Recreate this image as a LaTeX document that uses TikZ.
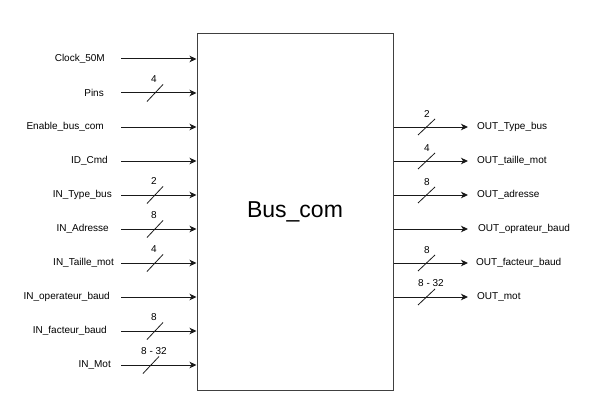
\documentclass[tikz,border=0pt]{standalone}
\usepackage{fontspec}
\setmainfont{Liberation Sans}
\usepackage{tikz}
\usetikzlibrary{positioning, arrows.meta}
\definecolor{lineclr}{rgb}{0.1, 0.1, 0.1}
\definecolor{boxclr}{rgb}{0.25, 0.25, 0.25}
\tikzset{ %
  ,>={Stealth[length=7pt, width=6.5pt, inset=2pt]}
  ,every node/.style={font=\fontsize{10}{12}\selectfont}
  ,block/.style={draw=boxclr, line width=1pt, minimum width=196pt, minimum height=356pt, inner sep=0, font=\fontsize{23}{27}\selectfont}
  ,sig/.style={inner sep=0, node distance=9pt}
  ,buswd/.style={inner sep=0}
  ,wire/.style={draw=lineclr, line width=1pt, ->}
  ,slash/.style={draw=lineclr, line width=0.8pt}
}
\begin{document}
\begin{tikzpicture}[x=1pt, y=-1pt]
      \useasboundingbox (0,0) rectangle (615,417);
      \node[block] (bus) at (295,212) {Bus\_com};
      % entrees
      \path
      coordinate (i1) at (121,59)
      coordinate (i2) at (121,93)
      coordinate (i3) at (121,127)
      coordinate (i4) at (121,161)
      coordinate (i5) at (121,195)
      coordinate (i6) at (121,229)
      coordinate (i7) at (121,263)
      coordinate (i8) at (121,297)
      coordinate (i9) at (121,331)
      coordinate (i10) at (121,365);
      \path
      node[sig, left=16pt of i1] (clk) {Clock\_50M}
      node[sig, left=17pt of i2] (pins) {Pins}
      node[sig, left=17pt of i3] (en) {Enable\_bus\_com}
      node[sig, left=13pt of i4] (id) {ID\_Cmd}
      node[sig, left=9pt of i5] (intype) {IN\_Type\_bus}
      node[sig, left=12pt of i6] (inadr) {IN\_Adresse}
      node[sig, left=7pt of i7] (intaille) {IN\_Taille\_mot}
      node[sig, left=11pt of i8] (inop) {IN\_operateur\_baud}
      node[sig, left=14pt of i9] (infact) {IN\_facteur\_baud}
      node[sig, left=10pt of i10] (inmot) {IN\_Mot};
      \path (i1) edge[wire] (i1 -| bus.west) (i2) edge[wire] (i2 -| bus.west)
        (i3) edge[wire] (i3 -| bus.west) (i4) edge[wire] (i4 -| bus.west)
        (i5) edge[wire] (i5 -| bus.west) (i6) edge[wire] (i6 -| bus.west)
        (i7) edge[wire] (i7 -| bus.west) (i8) edge[wire] (i8 -| bus.west)
        (i9) edge[wire] (i9 -| bus.west) (i10) edge[wire] (i10 -| bus.west);
      % largeurs de bus, entrees
      \node[buswd] (wpins) at (154,79.5) {4};
      \node[buswd] (wtype) at (154,181.5) {2};
      \node[buswd] (wadr) at (154,215.5) {8};
      \node[buswd] (wtaille) at (154,249.5) {4};
      \node[buswd] (wfact) at (154,317.5) {8};
      \node[buswd] (wmot) at (154,351.5) {8 - 32};
      \draw[slash] (147,101.5) -- (163,84.5);
      \draw[slash] (147,203.5) -- (163,186.5);
      \draw[slash] (147,237.5) -- (163,220.5);
      \draw[slash] (147,271.5) -- (163,254.5);
      \draw[slash] (147,339.5) -- (163,322.5);
      \draw[slash] (143,373.5) -- (159,356.5);
      % sorties
      \path
      coordinate (o1) at (468,127)
      coordinate (o2) at (468,161)
      coordinate (o3) at (468,195)
      coordinate (o4) at (468,229)
      coordinate (o5) at (468,263)
      coordinate (o6) at (468,297);
      \path
      node[sig, right=of o1] (outtype) {OUT\_Type\_bus}
      node[sig, right=of o2] (outtaille) {OUT\_taille\_mot}
      node[sig, right=of o3] (outadr) {OUT\_adresse}
      node[sig, right=10pt of o4] (outop) {OUT\_oprateur\_baud}
      node[sig, right=8pt of o5] (outfact) {OUT\_facteur\_baud}
      node[sig, right=of o6] (outmot) {OUT\_mot};
      \path (o1 -| bus.east) edge[wire] (o1) (o2 -| bus.east) edge[wire] (o2)
        (o3 -| bus.east) edge[wire] (o3) (o4 -| bus.east) edge[wire] (o4)
        (o5 -| bus.east) edge[wire] (o5) (o6 -| bus.east) edge[wire] (o6);
      % largeurs de bus, sorties
      \node[buswd] (wotype) at (427,114) {2};
      \node[buswd] (wotaille) at (427,148) {4};
      \node[buswd] (woadr) at (427,182) {8};
      \node[buswd] (wofact) at (427,250) {8};
      \node[buswd] (womot) at (431,283) {8 - 32};
      \draw[slash] (418,135) -- (435,119);
      \draw[slash] (418,169) -- (435,153);
      \draw[slash] (418,203) -- (435,187);
      \draw[slash] (418,271) -- (435,255);
      \draw[slash] (418,305) -- (435,289);
\end{tikzpicture}
\end{document}
